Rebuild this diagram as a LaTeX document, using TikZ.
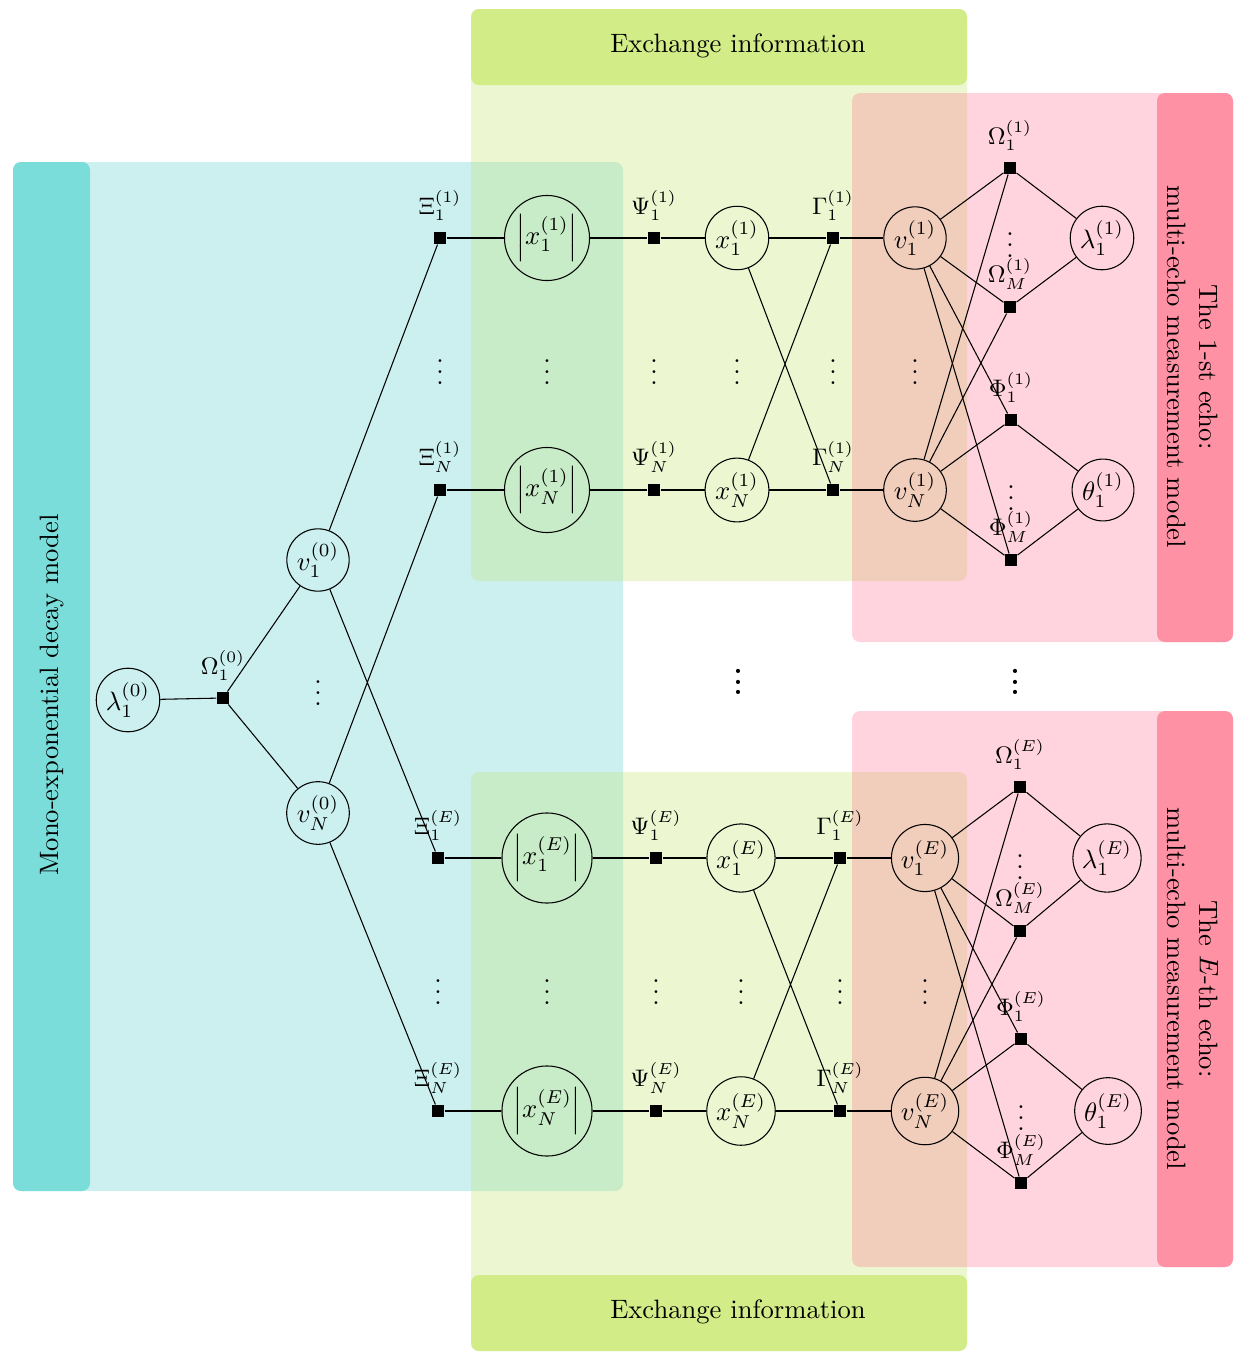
\documentclass[tikz,border=0pt]{standalone}
\usepackage{amsmath}
\definecolor{cyanL}{RGB}{204,240,240}
\definecolor{cyanS}{RGB}{122,221,218}
\definecolor{ygBase}{RGB}{192,228,105}
\definecolor{ygH}{RGB}{210,236,135}
\definecolor{pkBase}{RGB}{255,83,123}
\definecolor{pkS}{RGB}{255,145,165}
\newcommand{\mydots}{\vbox{\baselineskip4pt\lineskiplimit0pt\hbox{.}\hbox{.}\hbox{.}}}
\newcommand{\mybdots}{\vbox{\baselineskip4pt\lineskiplimit0pt\hbox{\bfseries.}\hbox{\bfseries.}\hbox{\bfseries.}}}
\tikzset{
  var/.style={circle,draw,inner sep=1pt},
  fac/.style={rectangle,fill=black,minimum size=4.5pt,inner sep=0pt},
  lab/.style={font=\small,inner sep=1pt},
  bgbox/.style={rounded corners=3pt},
  dotsnode/.style={inner sep=0pt},
}
\begin{document}
\begin{tikzpicture}[x=0.376pt,y=-0.376pt]
\useasboundingbox (0,0) rectangle (1246,1358);
% backgrounds
\fill[cyanL,bgbox] (13,162) rectangle (623,1191);
\fill[cyanS,bgbox] (13,162) rectangle (90,1191);
\fill[ygBase,fill opacity=0.3,bgbox] (471,9) rectangle (967,581);
\fill[ygBase,fill opacity=0.3,bgbox] (471,772) rectangle (967,1351);
\fill[ygH,bgbox] (471,9) rectangle (967,85);
\fill[ygH,bgbox] (471,1275) rectangle (967,1351);
\fill[pkBase,fill opacity=0.25,bgbox] (852,93) rectangle (1233,642);
\fill[pkBase,fill opacity=0.25,bgbox] (852,711) rectangle (1233,1267);
\fill[pkS,bgbox] (1157,93) rectangle (1233,642);
\fill[pkS,bgbox] (1157,711) rectangle (1233,1267);
% texts
\node[rotate=90] (mono) at (52,695) {Mono-exponential decay model};
\node[rotate=-90,align=center] (echo1) at (1193,367) {The 1-st echo:\\multi-echo measurement model};
\node[rotate=-90,align=center] (echoE) at (1193,989) {The $E$-th echo:\\multi-echo measurement model};
\node (exch1) at (738,46) {Exchange information};
\node (exch2) at (738,1312) {Exchange information};
% left part
\node[var] (lam0) at (128,700) {$\lambda_1^{(0)}$};
\node[fac,label={[lab,label distance=3pt]above:$\Omega_1^{(0)}$}] (Om0) at (223,698) {};
\node[var] (v10) at (318,560) {$v_1^{(0)}$};
\node[var] (vN0) at (318,813) {$v_N^{(0)}$};
% top group (echo 1)
\node[fac,label={[lab,label distance=3pt]above:$\Xi_1^{(1)}$}] (Xi1a) at (440,238) {};
\node[var] (Xa1a) at (547,238) {$\left|x_1^{(1)}\right|$};
\node[fac,label={[lab,label distance=3pt]above:$\Psi_1^{(1)}$}] (Psi1a) at (654,238) {};
\node[var] (x1a) at (737,238) {$x_1^{(1)}$};
\node[fac,label={[lab,label distance=3pt]above:$\Gamma_1^{(1)}$}] (Gam1a) at (833,238) {};
\node[var] (v1a) at (915,238) {$v_1^{(1)}$};
\node[fac,label={[lab,label distance=3pt]above:$\Xi_N^{(1)}$}] (XiNa) at (440,490) {};
\node[var] (XaNa) at (547,490) {$\left|x_N^{(1)}\right|$};
\node[fac,label={[lab,label distance=3pt]above:$\Psi_N^{(1)}$}] (PsiNa) at (654,490) {};
\node[var] (xNa) at (737,490) {$x_N^{(1)}$};
\node[fac,label={[lab,label distance=3pt]above:$\Gamma_N^{(1)}$}] (GamNa) at (833,490) {};
\node[var] (vNa) at (915,490) {$v_N^{(1)}$};
\node[fac,label={[lab,label distance=3pt]above:$\Omega_1^{(1)}$}] (Om1a) at (1010,168) {};
\node[fac,label={[lab,label distance=3pt]above:$\Omega_M^{(1)}$}] (OmMa) at (1010,307) {};
\node[var] (lama) at (1102,238) {$\lambda_1^{(1)}$};
\node[fac,label={[lab,label distance=3pt]above:$\Phi_1^{(1)}$}] (Phi1a) at (1011,420) {};
\node[fac,label={[lab,label distance=3pt]above:$\Phi_M^{(1)}$}] (PhiMa) at (1011,560) {};
\node[var] (tha) at (1103,490) {$\theta_1^{(1)}$};
% bottom group (echo E)
\node[fac,label={[lab,label distance=3pt]above:$\Xi_1^{(E)}$}] (Xi1b) at (438,858) {};
\node[var] (Xa1b) at (547,858) {$\left|x_1^{(E)}\right|$};
\node[fac,label={[lab,label distance=3pt]above:$\Psi_1^{(E)}$}] (Psi1b) at (656,858) {};
\node[var] (x1b) at (741,858) {$x_1^{(E)}$};
\node[fac,label={[lab,label distance=3pt]above:$\Gamma_1^{(E)}$}] (Gam1b) at (840,858) {};
\node[var] (v1b) at (925,858) {$v_1^{(E)}$};
\node[fac,label={[lab,label distance=3pt]above:$\Xi_N^{(E)}$}] (XiNb) at (438,1111) {};
\node[var] (XaNb) at (547,1111) {$\left|x_N^{(E)}\right|$};
\node[fac,label={[lab,label distance=3pt]above:$\Psi_N^{(E)}$}] (PsiNb) at (656,1111) {};
\node[var] (xNb) at (741,1111) {$x_N^{(E)}$};
\node[fac,label={[lab,label distance=3pt]above:$\Gamma_N^{(E)}$}] (GamNb) at (840,1111) {};
\node[var] (vNb) at (925,1111) {$v_N^{(E)}$};
\node[fac,label={[lab,label distance=3pt]above:$\Omega_1^{(E)}$}] (Om1b) at (1020,787) {};
\node[fac,label={[lab,label distance=3pt]above:$\Omega_M^{(E)}$}] (OmMb) at (1020,931) {};
\node[var] (lamb) at (1107,858) {$\lambda_1^{(E)}$};
\node[fac,label={[lab,label distance=3pt]above:$\Phi_1^{(E)}$}] (Phi1b) at (1021,1039) {};
\node[fac,label={[lab,label distance=3pt]above:$\Phi_M^{(E)}$}] (PhiMb) at (1021,1183) {};
\node[var] (thb) at (1108,1111) {$\theta_1^{(E)}$};
% dots
\node[dotsnode] (d0) at (318,693) {\mydots};
\foreach \xx/\nm in {440/a1,547/a2,654/a3,737/a4,833/a5,915/a6}
  \node[dotsnode] (d\nm) at (\xx,372) {\mydots};
\foreach \xx/\nm in {438/b1,547/b2,656/b3,741/b4,840/b5,925/b6}
  \node[dotsnode] (d\nm) at (\xx,992) {\mydots};
\node[dotsnode] (dOma) at (1010,245) {\mydots};
\node[dotsnode] (dPhia) at (1011,498) {\mydots};
\node[dotsnode] (dOmb) at (1020,867) {\mydots};
\node[dotsnode] (dPhib) at (1021,1118) {\mydots};
\node[dotsnode] (bd1) at (738,682) {\mybdots};
\node[dotsnode] (bd2) at (1015,682) {\mybdots};
% edges
\draw (lam0) -- (Om0) (Om0) -- (v10) (Om0) -- (vN0)
  (v10) -- (Xi1a) (v10) -- (Xi1b) (vN0) -- (XiNa) (vN0) -- (XiNb);
\foreach \g in {a,b}{
  \foreach \r in {1,N}{
    \draw (Xi\r\g) -- (Xa\r\g) -- (Psi\r\g) -- (x\r\g) -- (Gam\r\g) -- (v\r\g);
    \draw (v\r\g) -- (Om1\g) (v\r\g) -- (OmM\g) (v\r\g) -- (Phi1\g) (v\r\g) -- (PhiM\g);
  }
  \draw (x1\g) -- (GamN\g) (xN\g) -- (Gam1\g);
  \draw (Om1\g) -- (lam\g) (OmM\g) -- (lam\g) (Phi1\g) -- (th\g) (PhiM\g) -- (th\g);
}
\end{tikzpicture}
\end{document}
